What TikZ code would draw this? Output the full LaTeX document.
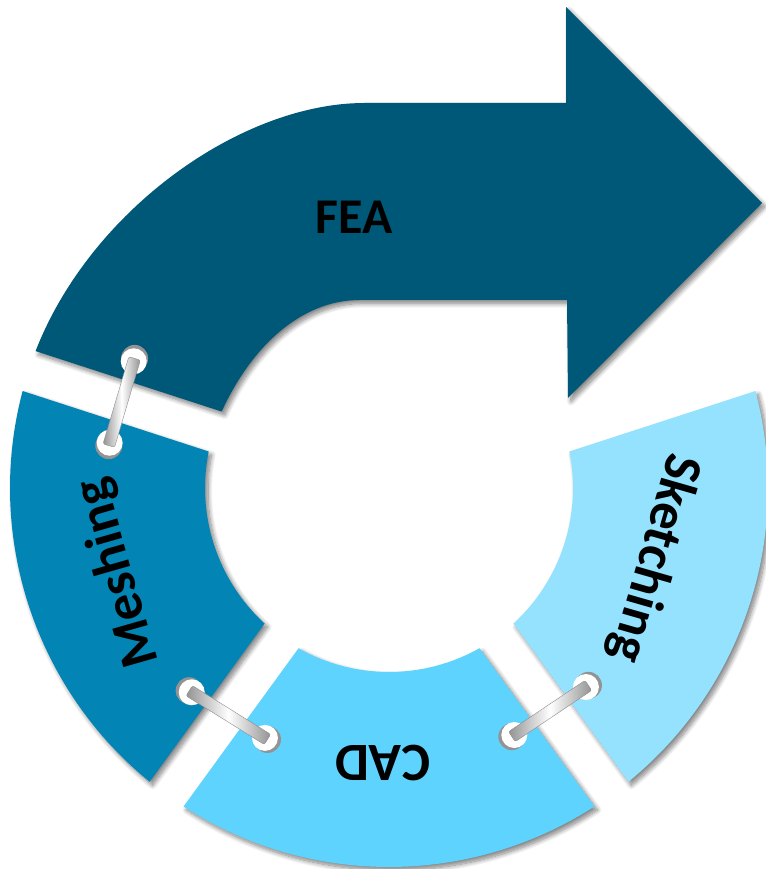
\documentclass[tikz,border=0pt]{standalone}
\usepackage{fontspec}
\setmainfont{Carlito}
\usetikzlibrary{calc,shadows.blur}
\definecolor{feacol}{HTML}{005878}
\definecolor{meshcol}{HTML}{0284B4}
\definecolor{cadcol}{HTML}{5DD3FD}
\definecolor{sketchcol}{HTML}{94E2FE}
\newcommand\Ro{379}
\newcommand\Ri{184}
\newcommand\Gp{21}
\newcommand\ringseg[3]{%
  \path[#3] ({#1+asin(\Gp/\Ro)}:\Ro)
    arc[start angle={#1+asin(\Gp/\Ro)}, end angle={#2-asin(\Gp/\Ro)}, radius=\Ro]
    -- ({#2-asin(\Gp/\Ri)}:\Ri)
    arc[start angle={#2-asin(\Gp/\Ri)}, end angle={#1+asin(\Gp/\Ri)}, radius=\Ri]
    -- cycle;}
\begin{document}
\begin{tikzpicture}[x=1pt,y=1pt,
  segshadow/.style={blur shadow={shadow xshift=3pt, shadow yshift=-3.5pt, shadow blur radius=4.5pt, shadow blur steps=10, shadow opacity=50}},
  seglabel/.style={font=\fontsize{50}{60}\selectfont\bfseries, text=black, inner sep=0pt},
  ringlabel/.style={font=\fontsize{54}{64}\selectfont\bfseries, text=black, inner sep=0pt},
  holeshade/.style={fill=gray!85},
  holefill/.style={fill=white},
  linkbar/.style={rectangle, rounded corners=2pt, minimum height=12pt, inner sep=0pt, draw=gray!90, line width=0.4pt, left color=gray!85, right color=gray!85, middle color=white}
]
\useasboundingbox (0,0) rectangle (765,869);
\coordinate (O) at (389,381);

% FEA arrow
\begin{scope}[shift={(O)}]
  \coordinate (fo) at ({162-asin(\Gp/\Ro)}:\Ro);
  \coordinate (fi) at ({162-asin(\Gp/\Ri)}:\Ri);
\end{scope}
\fill[feacol, segshadow] (fo) .. controls ($(fo)+(68.8:150)$) and (240,766) .. (365,766)
  -- (566,766) -- (566,862) -- (762,666) -- (568,471) -- (567,569) -- (360,569)
  .. controls (300,569) and ($(fi)+(65.45:70)$) .. (fi) -- cycle;

% ring segments
\begin{scope}[shift={(O)}]
  \ringseg{162}{234}{fill=meshcol, segshadow}
  \ringseg{234}{306}{fill=cadcol, segshadow}
  \ringseg{306}{378}{fill=sketchcol, segshadow}
\end{scope}

% labels
\node[seglabel] (fea) at (354.5,652) {FEA};
\node[ringlabel, rotate=106] (mesh) at ($(O)+(197.4:284)$) {Meshing};
\node[ringlabel, rotate=180] (cad) at ($(O)+(268.7:275)$) {CAD};
\node[ringlabel, rotate=-106] (sketch) at ($(O)+(-14.8:274)$) {Sketching};

% link holes
\begin{scope}[shift={(O)}]
  \coordinate (h1a) at (153.6:285);
  \coordinate (h1b) at (170.8:283);
  \coordinate (h2a) at (226:284);
  \coordinate (h2b) at (243.6:279);
  \coordinate (h3a) at (296.9:277);
  \coordinate (h3b) at (314.7:280);
\end{scope}
\foreach \ha/\hb in {h1a/h1b, h2a/h2b, h3a/h3b} {
  \fill[holeshade] ($(\ha)!-3pt!(\hb)$) circle[radius=13.5];
  \fill[holeshade] ($(\hb)!-3pt!(\ha)$) circle[radius=13.5];
  \fill[holefill] (\ha) circle[radius=13];
  \fill[holefill] (\hb) circle[radius=13];
  \path let \p1=($(\hb)-(\ha)$), \n1={atan2(\y1,\x1)}, \n2={veclen(\x1,\y1)} in
    node[linkbar, rotate=\n1, minimum width=\n2+6] at ($(\ha)!0.5!(\hb)$) {};
}
\end{tikzpicture}
\end{document}
